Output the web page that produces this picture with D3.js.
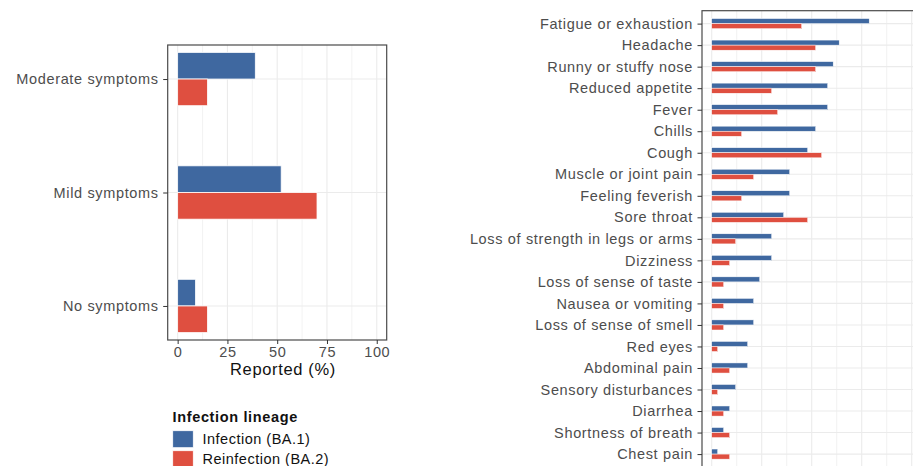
<!DOCTYPE html>
<html><head><meta charset="utf-8">
<script src="https://cdn.jsdelivr.net/npm/d3@7"></script>
<style>body{margin:0;background:#fff}svg{display:block;font-family:"Liberation Sans",Arial,sans-serif}</style>
</head><body><svg id="c" width="913" height="466"></svg>
<script>
const severityCats = ["Moderate symptoms","Mild symptoms","No symptoms"];
const severityBA1 = [39, 52, 9];
const severityBA2 = [15, 70, 15];
const sevTicks = [0,25,50,75,100];

const symptomCats = ["Fatigue or exhaustion","Headache","Runny or stuffy nose","Reduced appetite","Fever","Chills","Cough","Muscle or joint pain","Feeling feverish","Sore throat","Loss of strength in legs or arms","Dizziness","Loss of sense of taste","Nausea or vomiting","Loss of sense of smell","Red eyes","Abdominal pain","Sensory disturbances","Diarrhea","Shortness of breath","Chest pain"];
const symptomBA1 = [31.5,25.5,24.3,23.2,23.2,20.8,19.2,15.6,15.6,14.4,12,12,9.6,8.4,8.4,7.2,7.2,4.8,3.6,2.4,1.2];
const symptomBA2 = [18,20.8,20.8,12,13.2,6,22,8.4,6,19.2,4.8,3.6,2.4,2.4,2.4,1.2,3.6,1.2,2.4,3.6,3.6];

const seriesNames = ["Infection (BA.1)","Reinfection (BA.2)"];
const colors = ["#3f68a0","#df4f40"];

const svg = d3.select("#c");
const gridCol = "#ebebeb", borderCol = "#4a4a4a", axisText = "#4d4d4d";
const fs = 14.5, ls = 0.65;
const FF = "Liberation Sans, Arial, sans-serif";

function styleText(sel, size, col){
  sel.attr("font-size",size).attr("fill",col).attr("font-family",FF).attr("letter-spacing",ls);
}

// ---------- Left panel ----------
{
  const L = 167.7, R = 386.7, T = 45, B = 340;
  const x = d3.scaleLinear().domain([-5,105]).range([L,R]);
  const y = d3.scalePoint().domain(severityCats).range([T,B]).padding(0.3);
  const bw = y.step()*0.47/2;
  const g = svg.append("g");
  const grid = d3.range(0,100.01,12.5);
  g.selectAll(".vg").data(grid).join("line").attr("x1",d=>x(d)).attr("x2",d=>x(d)).attr("y1",T).attr("y2",B).attr("stroke",gridCol).attr("stroke-width",d=>d%25===0?1.1:0.6);
  g.selectAll(".hg").data(severityCats).join("line").attr("x1",L).attr("x2",R).attr("y1",d=>y(d)).attr("y2",d=>y(d)).attr("stroke",gridCol).attr("stroke-width",1.1);
  [severityBA1,severityBA2].forEach((vals,si)=>{
    g.selectAll(".b"+si).data(severityCats).join("rect")
      .attr("x",x(0)).attr("width",(d,i)=>x(vals[i])-x(0))
      .attr("y",d=>y(d)-bw+si*bw).attr("height",bw)
      .attr("fill",colors[si]).attr("stroke","#fff").attr("stroke-width",0.8);
  });
  g.append("rect").attr("x",L).attr("y",T).attr("width",R-L).attr("height",B-T).attr("fill","none").attr("stroke",borderCol).attr("stroke-width",1.2);
  const ya = g.append("g").attr("transform",`translate(${L},0)`).call(d3.axisLeft(y).tickSize(4.5).tickPadding(4.5));
  ya.select(".domain").remove();
  ya.selectAll("line").attr("stroke","#333");
  styleText(ya.selectAll("text"), fs, axisText);
  const xa = g.append("g").attr("transform",`translate(0,${B})`).call(d3.axisBottom(x).tickValues(sevTicks).tickSize(4).tickPadding(2.8));
  xa.select(".domain").remove();
  xa.selectAll("line").attr("stroke","#333");
  styleText(xa.selectAll("text"), fs, axisText);
  styleText(g.append("text").attr("x",283).attr("y",374.5).attr("text-anchor","middle").text("Reported (%)"), 16.5, "#111");

  // legend
  const lg = svg.append("g");
  styleText(lg.append("text").attr("x",172.5).attr("y",421.5).attr("font-weight","bold").text("Infection lineage"), fs, "#111");
  seriesNames.forEach((n,i)=>{
    lg.append("rect").attr("x",172.7).attr("y",430.7+i*20).attr("width",20.6).attr("height",17).attr("fill",colors[i]).attr("stroke","#fff").attr("stroke-width",0.8);
    const t = lg.append("text").attr("x",202.5).attr("y",444+i*19.5).text(n);
    styleText(t, fs, "#111");
    t.attr("letter-spacing",0.5);
  });
}

// ---------- Right panel ----------
{
  const L = 702, R = 925, T = 10.7, B = 467;
  const x = d3.scaleLinear().domain([-1.94, -1.94 + (R-L)/5]).range([L,R]);
  const y = d3.scalePoint().domain(symptomCats).range([T,B]).padding(0.6);
  const bw = y.step()*0.47/2;
  const g = svg.append("g");
  const grid = d3.range(0,45,5);
  g.selectAll(".vg").data(grid).join("line").attr("x1",d=>x(d)).attr("x2",d=>x(d)).attr("y1",T).attr("y2",B).attr("stroke",gridCol).attr("stroke-width",d=>d%10===0?1.1:0.7);
  g.selectAll(".hg").data(symptomCats).join("line").attr("x1",L).attr("x2",R).attr("y1",d=>y(d)).attr("y2",d=>y(d)).attr("stroke",gridCol).attr("stroke-width",1.1);
  [symptomBA1,symptomBA2].forEach((vals,si)=>{
    g.selectAll(".b"+si).data(symptomCats).join("rect")
      .attr("x",x(0)).attr("width",(d,i)=>x(vals[i])-x(0))
      .attr("y",d=>y(d)-bw+si*bw).attr("height",bw)
      .attr("fill",colors[si]).attr("stroke","#fff").attr("stroke-width",0.5);
  });
  g.append("rect").attr("x",L).attr("y",T).attr("width",R-L).attr("height",B-T).attr("fill","none").attr("stroke",borderCol).attr("stroke-width",1.2);
  const ya = g.append("g").attr("transform",`translate(${L},0)`).call(d3.axisLeft(y).tickSize(4.5).tickPadding(4.5));
  ya.select(".domain").remove();
  ya.selectAll("line").attr("stroke","#333");
  styleText(ya.selectAll("text"), fs, axisText);
}
</script></body></html>
